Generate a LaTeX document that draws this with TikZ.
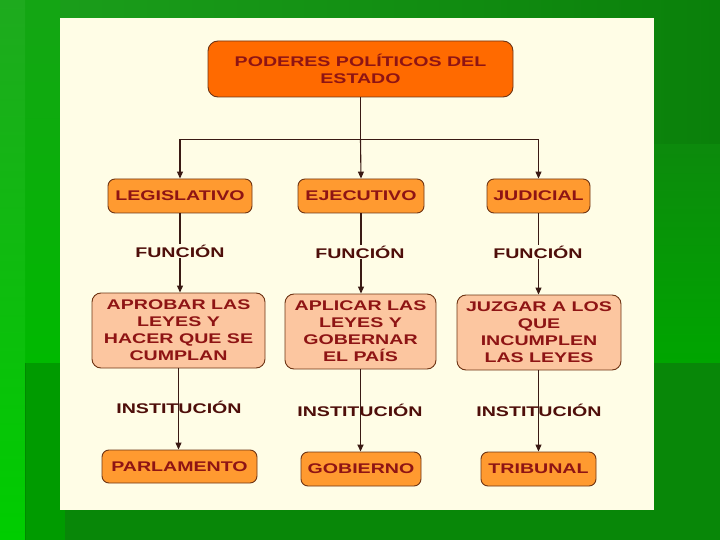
\documentclass[tikz,border=0pt]{standalone}
\usepackage{fontspec}
\usetikzlibrary{arrows.meta,calc}
\newfontfamily\wfont[FakeStretch=1.4]{Liberation Sans}
\definecolor{panel}{HTML}{FFFDE6}
\definecolor{ttlfill}{HTML}{FF6A00}
\definecolor{orfill}{HTML}{FF9A30}
\definecolor{pcfill}{HTML}{FCC6A0}
\definecolor{bord}{HTML}{6E3414}
\definecolor{txtred}{HTML}{8E1414}
\definecolor{lbldark}{HTML}{4E0E0A}
\definecolor{ln}{HTML}{3A1A14}
\definecolor{gA}{RGB}{28,160,28}
\definecolor{gB}{RGB}{10,128,10}
\definecolor{gC}{RGB}{8,135,8}
\definecolor{gD}{RGB}{12,138,12}
\definecolor{gE}{RGB}{0,165,0}
\definecolor{gF}{RGB}{20,165,20}
\definecolor{gG}{RGB}{0,185,0}
\definecolor{gH}{RGB}{0,155,0}
\definecolor{gI}{RGB}{0,130,0}
\definecolor{gJ}{RGB}{30,170,30}
\definecolor{gK}{RGB}{0,205,0}
\tikzset{
  box/.style={draw=bord, line width=0.9pt, rounded corners=7pt, align=center,
    text=txtred, font=\wfont\bfseries\fontsize{14}{17}\selectfont, inner sep=0pt},
  ttlbox/.style={box, fill=ttlfill, rounded corners=10pt},
  orbox/.style={box, fill=orfill},
  pcbox/.style={box, fill=pcfill, rounded corners=9pt},
  lbl/.style={text=lbldark, font=\wfont\bfseries\fontsize{14}{17}\selectfont, inner sep=1pt},
  conn/.style={draw=ln, line width=1.1pt},
  arr/.style={conn, -{Triangle[length=7pt,width=6pt]}}
}
\begin{document}
\begin{tikzpicture}[x=1pt,y=-1pt]
\useasboundingbox (0,0) rectangle (720,540);
% background
\shade[left color=gA, right color=gB] (0,0) rectangle (720,540);
\fill[gC] (654,362) rectangle (720,540);
\shade[top color=gD, bottom color=gE] (654,145) rectangle (720,362);
\fill[gC] (60,510) rectangle (720,540);
\shade[top color=gF, bottom color=gG] (25,0) rectangle (60,363);
\fill[gH] (25,363) rectangle (65,540);
\draw[gI, line width=1pt] (25.5,363) -- (25.5,540);
\shade[top color=gJ, bottom color=gK] (0,0) rectangle (25,540);
% panel
\fill[panel] (60,18) rectangle (654,510);

% nodes
\node[ttlbox, minimum width=305pt, minimum height=56pt] (title) at (360.5,69) {PODERES POLÍTICOS DEL\\ESTADO};

\node[orbox, minimum width=144pt, minimum height=34pt] (leg) at (180,196) {LEGISLATIVO};
\node[orbox, minimum width=126pt, minimum height=34pt] (eje) at (361,196) {EJECUTIVO};
\node[orbox, minimum width=103pt, minimum height=34pt] (jud) at (538.5,196) {JUDICIAL};

\node[pcbox, minimum width=173pt, minimum height=75pt] (apr) at (178.5,330.5) {APROBAR LAS\\LEYES Y\\HACER QUE SE\\CUMPLAN};
\node[pcbox, minimum width=151pt, minimum height=75pt] (apl) at (360.5,331.5) {APLICAR LAS\\LEYES Y\\GOBERNAR\\EL PAÍS};
\node[pcbox, minimum width=164pt, minimum height=75pt] (juz) at (539,332.5) {JUZGAR A LOS\\QUE\\INCUMPLEN\\LAS LEYES};

\node[orbox, minimum width=155pt, minimum height=33pt] (par) at (179.5,466.5) {PARLAMENTO};
\node[orbox, minimum width=120pt, minimum height=34pt] (gob) at (361,469) {GOBIERNO};
\node[orbox, minimum width=115pt, minimum height=34pt] (tri) at (538.5,469) {TRIBUNAL};

% institution labels (under the lines)
\node[lbl] (i1) at (179,407) {INSTITUCIÓN};
\node[lbl] (i2) at (360,410) {INSTITUCIÓN};
\node[lbl] (i3) at (539,410) {INSTITUCIÓN};

% connectors
\path (title.south) ++(0,42) coordinate (jm);
\draw[conn] (title.south) -- (jm);
\draw[conn] (jm -| leg.north) -- (jm -| jud.north);
\draw[arr] (jm -| leg.north) -- (leg.north);
\draw[arr] (jm) -- (eje.north);
\draw[arr] (jm -| jud.north) -- (jud.north);

\draw[arr] (leg.south) -- (leg.south |- apr.north);
\draw[arr] (eje.south) -- (eje.south |- apl.north);
\draw[arr] (jud.south) -- (jud.south |- juz.north);

\draw[arr] (apr.south) -- (apr.south |- par.north);
\draw[arr, line width=1.8pt] (apl.south) -- (apl.south |- gob.north);
\draw[arr] (jud.south |- juz.south) -- (tri.north);

% function labels (over the lines)
\node[lbl, fill=panel] (f1) at (180,251) {FUNCIÓN};
\node[lbl, fill=panel] (f2) at (360,252) {FUNCIÓN};
\node[lbl, fill=panel] (f3) at (538,252) {FUNCIÓN};
\end{tikzpicture}
\end{document}
